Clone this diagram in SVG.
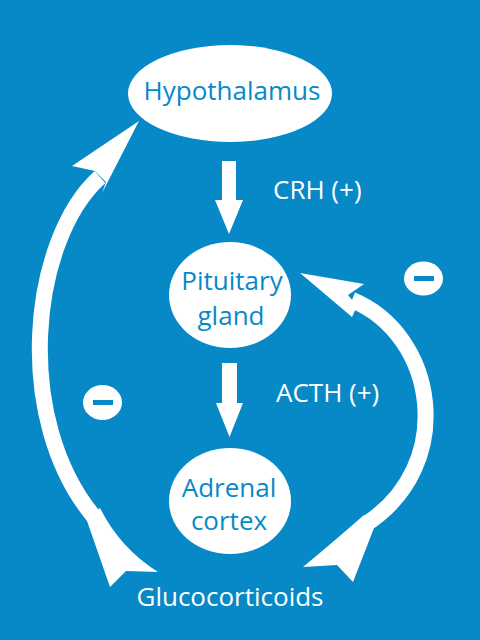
<svg xmlns="http://www.w3.org/2000/svg" width="480" height="640" viewBox="0 0 480 640">
<style>
.bg{fill:#0789c8}
.node{fill:#ffffff}
.lbl{font-family:"Open Sans","Noto Sans",sans-serif;font-size:26px;fill:#0789c8;text-anchor:middle}
.wlbl{font-family:"Open Sans","Noto Sans",sans-serif;font-size:26px;fill:#ffffff;text-anchor:middle}
.clbl{font-family:"Open Sans","Noto Sans",sans-serif;font-size:26px;fill:#ffffff;text-anchor:start}
.shaft{fill:none;stroke:#ffffff;stroke-width:16}
.head{fill:#ffffff}
.bar{fill:#0789c8}
</style>
<rect class="bg" x="0" y="0" width="480" height="640"/>
<g id="connectors">
  <g id="crh-arrow">
    <polygon class="head" points="222,161 236,161 236,200 243,200 229,234 215,200 222,200"/>
    <text class="clbl" x="273" y="199">CRH (+)</text>
  </g>
  <g id="acth-arrow">
    <polygon class="head" points="222,363 237,363 237,403 243,403 229.5,437 216,403 222,403"/>
    <text class="clbl" x="276" y="402">ACTH (+)</text>
  </g>
  <g id="feedback-left">
    <path class="shaft" d="M100,177 C30,240 12,420 95,518"/>
    <polygon class="head" points="139,121 72,166 95,171 106,182 102,193"/>
    <path class="head" d="M86,518 L110,587 L126,571 L158,572 Q120,548 100,508 Z"/>
  </g>
  <g id="feedback-right">
    <path class="shaft" d="M352,300 C437,335 457,465 366,524"/>
    <polygon class="head" points="300,273 364,284 348,295 357,306 352,317"/>
    <path class="head" d="M364,515 Q332,543 303,567 L337,565 L353,582 L374,528 Z"/>
  </g>
</g>
<g id="hypothalamus">
  <ellipse class="node" cx="230" cy="93.5" rx="102" ry="48.5"/>
  <text class="lbl" x="232" y="100">Hypothalamus</text>
</g>
<g id="pituitary">
  <ellipse class="node" cx="230" cy="295" rx="61" ry="53"/>
  <text class="lbl" x="232" y="290">Pituitary</text>
  <text class="lbl" x="231" y="325">gland</text>
</g>
<g id="adrenal">
  <ellipse class="node" cx="230" cy="501" rx="61" ry="53"/>
  <text class="lbl" x="229" y="497">Adrenal</text>
  <text class="lbl" x="229" y="530">cortex</text>
</g>
<g id="glucocorticoids">
  <text class="wlbl" x="230" y="606">Glucocorticoids</text>
</g>
<g id="minus-left">
  <ellipse class="node" cx="102.5" cy="402.5" rx="19.5" ry="17.5"/>
  <rect class="bar" x="93" y="400" width="20" height="5"/>
</g>
<g id="minus-right">
  <ellipse class="node" cx="423.5" cy="278.5" rx="19.5" ry="17"/>
  <rect class="bar" x="414" y="276" width="20" height="5"/>
</g>
</svg>
